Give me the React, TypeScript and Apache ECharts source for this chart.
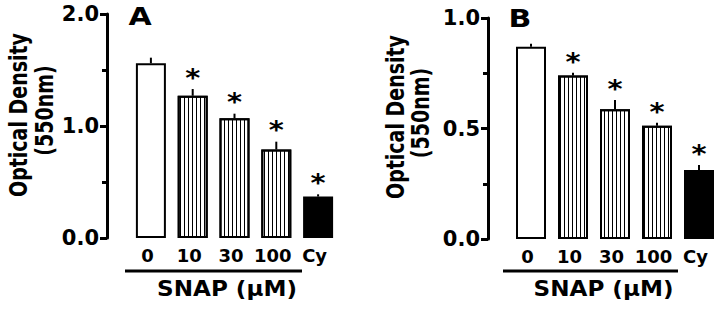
import React, { useEffect, useRef } from "react";
import * as echarts from "echarts";

const categories = ["0", "10", "30", "100", "Cy"];
const valuesA = [1.56, 1.27, 1.07, 0.79, 0.37];
const errorsA = [0.05, 0.06, 0.04, 0.07, 0.02];
const valuesB = [0.87, 0.74, 0.587, 0.513, 0.312];
const errorsB = [0.014, 0.012, 0.042, 0.013, 0.023];
const significant = [false, true, true, true, true];
const yTicksA = { min: 0, max: 2, interval: 1 };
const yTicksB = { min: 0, max: 1, interval: 0.5 };
const yTitle = ["Optical Density", "(550nm)"];
const xTitle = "SNAP (µM)";
const panelLabels = ["A", "B"];

const FONT = "'DejaVu Sans', sans-serif";

const hatch = {
  symbol: "rect",
  symbolSize: 1,
  dashArrayX: [1, 3],
  dashArrayY: [4, 0],
  rotation: 0,
  color: "#000",
  backgroundColor: null,
};

function barData(values: number[]) {
  return values.map((v, i) => ({
    value: v,
    itemStyle: {
      color: i === 4 ? "#000" : "#fff",
      decal: i >= 1 && i <= 3 ? hatch : undefined,
    },
  }));
}

function errData(values: number[], errs: number[]) {
  return values.map((v, i) => [i, v, errs[i], significant[i] ? 1 : 0]);
}

const renderErr = (params: any, api: any) => {
  const idx = api.value(0);
  const v = api.value(1);
  const e = api.value(2);
  const s = api.value(3);
  const base = api.coord([idx, v]);
  const top = api.coord([idx, v + e]);
  const children: any[] = [
    {
      type: "line",
      shape: { x1: base[0], y1: base[1], x2: top[0], y2: top[1] },
      style: { stroke: "#000", lineWidth: 2 },
    },
  ];
  if (s) {
    children.push({
      type: "text",
      x: top[0],
      y: top[1] - 12,
      scaleX: 1.15,
      style: {
        text: "*",
        x: 0,
        y: 0,
        textAlign: "center",
        textVerticalAlign: "middle",
        font: `bold 25px ${FONT}`,
        fill: "#000",
      },
    });
  }
  return { type: "group", children };
};

function yAxisCfg(gridIndex: number, t: any, offset: number) {
  return {
    type: "value",
    gridIndex,
    min: t.min,
    max: t.max,
    interval: t.interval,
    offset,
    axisLine: { show: true, lineStyle: { color: "#000", width: 3 } },
    axisTick: { show: true, length: 7, lineStyle: { color: "#000", width: 3 } },
    minorTick: { show: true, splitNumber: 2, length: 5, lineStyle: { color: "#000", width: 3 } },
    splitLine: { show: false },
    minorSplitLine: { show: false },
    axisLabel: {
      formatter: (v: number) => v.toFixed(1),
      fontFamily: FONT,
      fontWeight: "bold",
      fontSize: 21,
      color: "#000",
      margin: 8,
    },
  };
}

function xAxisCfg(gridIndex: number) {
  return {
    type: "category",
    gridIndex,
    data: categories,
    axisLine: { show: false },
    axisTick: { show: false },
    axisLabel: {
      interval: 0,
      fontFamily: FONT,
      fontWeight: "bold",
      fontSize: 18,
      color: "#000",
      margin: 8,
      padding: [0, 7, 0, 0],
    },
  };
}

function titleTexts(cx1: number, cy1: number, cx2: number, cy2: number) {
  return [
    {
      type: "text",
      x: cx1,
      y: cy1,
      rotation: Math.PI / 2,
      scaleY: 1.3,
      style: {
        text: yTitle[0],
        textAlign: "center",
        textVerticalAlign: "middle",
        font: `bold 19px ${FONT}`,
        fill: "#000",
      },
    },
    {
      type: "text",
      x: cx2,
      y: cy2,
      rotation: Math.PI / 2,
      scaleY: 1.3,
      style: {
        text: yTitle[1],
        textAlign: "center",
        textVerticalAlign: "middle",
        font: `bold 19px ${FONT}`,
        fill: "#000",
      },
    },
  ];
}

function letter(text: string, x: number, y: number) {
  return {
    type: "text",
    x,
    y,
    scaleX: 1.25,
    style: { text, textAlign: "center", textVerticalAlign: "middle", font: `bold 24px ${FONT}`, fill: "#000" },
  };
}

function snapText(x: number) {
  return {
    type: "text",
    x,
    y: 288,
    scaleX: 1.05,
    style: { text: xTitle, textAlign: "center", textVerticalAlign: "middle", font: `bold 22px ${FONT}`, fill: "#000" },
  };
}

export default function App() {
  const ref = useRef<HTMLDivElement>(null);
  useEffect(() => {
    if (!ref.current) return;
    const chart = echarts.init(ref.current, undefined, { renderer: "svg" });
    chart.setOption({
      animation: false,
      backgroundColor: "#fff",
      grid: [
        { left: 130, top: 14, width: 209, height: 224 },
        { left: 510, top: 18, width: 210, height: 221 },
      ],
      xAxis: [xAxisCfg(0), xAxisCfg(1)],
      yAxis: [yAxisCfg(0, yTicksA, 23), yAxisCfg(1, yTicksB, 22)],
      series: [
        {
          type: "bar",
          xAxisIndex: 0,
          yAxisIndex: 0,
          barWidth: 30,
          data: barData(valuesA),
          itemStyle: { borderColor: "#000", borderWidth: 2 },
          z: 2,
        },
        {
          type: "custom",
          xAxisIndex: 0,
          yAxisIndex: 0,
          renderItem: renderErr,
          data: errData(valuesA, errorsA),
          z: 3,
        },
        {
          type: "bar",
          xAxisIndex: 1,
          yAxisIndex: 1,
          barWidth: 30,
          data: barData(valuesB),
          itemStyle: { borderColor: "#000", borderWidth: 2 },
          z: 2,
        },
        {
          type: "custom",
          xAxisIndex: 1,
          yAxisIndex: 1,
          renderItem: renderErr,
          data: errData(valuesB, errorsB),
          z: 3,
        },
      ],
      graphic: [
        ...titleTexts(19, 115, 45, 110.5),
        ...titleTexts(396, 117, 421, 113),
        letter(panelLabels[0], 140, 17),
        letter(panelLabels[1], 520, 19),
        { type: "line", shape: { x1: 125, y1: 271, x2: 302, y2: 271 }, style: { stroke: "#000", lineWidth: 3 } },
        { type: "line", shape: { x1: 503, y1: 271, x2: 678, y2: 271 }, style: { stroke: "#000", lineWidth: 3 } },
        snapText(227),
        snapText(603.5),
      ],
    });
    return () => chart.dispose();
  }, []);
  return (
    <div
      ref={ref}
      style={{ position: "fixed", left: 0, top: 0, width: 720, height: 310, background: "#fff" }}
    />
  );
}
